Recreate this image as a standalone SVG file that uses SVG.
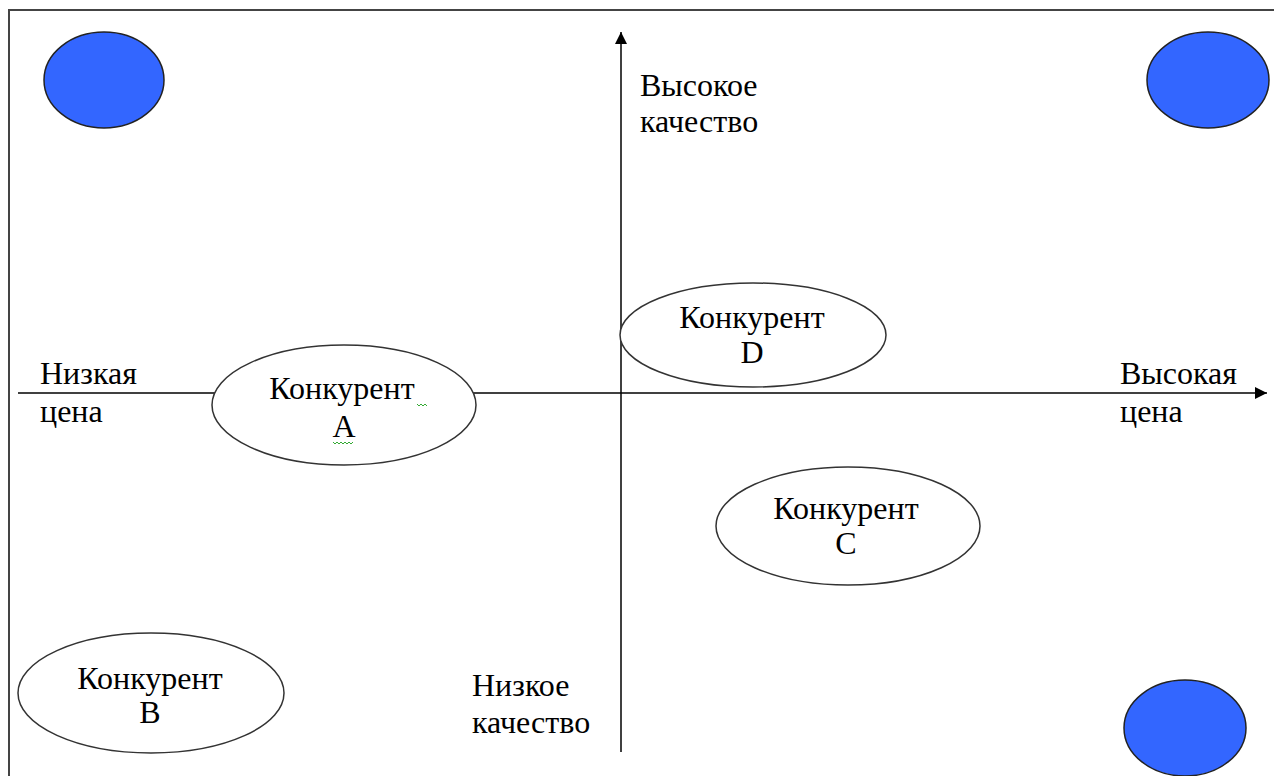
<svg xmlns="http://www.w3.org/2000/svg" width="1274" height="776" viewBox="0 0 1274 776">
<style>
.t{font-family:"Liberation Serif","DejaVu Serif",serif;font-size:32px;fill:#000}
.m{text-anchor:middle}
.e{fill:#fff;stroke:#333;stroke-width:1.5}
.b{fill:#3366ff;stroke:#222;stroke-width:1.5}
.ax{stroke:#000;stroke-width:1.5;fill:none}
.sq{stroke:#3a3;stroke-width:1;fill:none}
</style>
<defs>
<marker id="ah" viewBox="0 0 10 10" refX="10" refY="5" markerWidth="13" markerHeight="12" markerUnits="userSpaceOnUse" orient="auto">
<path d="M0,0 L10,5 L0,10 Z" fill="#000"/>
</marker>
</defs>
<rect width="1274" height="776" fill="#fff"/>
<path d="M9,776 V10 H1274" stroke="#444" stroke-width="2" fill="none"/>
<g id="connectors">
<line class="ax" x1="18" y1="393" x2="1267" y2="393" marker-end="url(#ah)"/>
<line class="ax" x1="621" y1="752" x2="621" y2="32" marker-end="url(#ah)"/>
</g>
<g id="corner-tl"><ellipse class="b" cx="104" cy="80" rx="60" ry="48"/></g>
<g id="corner-tr"><ellipse class="b" cx="1208" cy="80" rx="61" ry="48"/></g>
<g id="corner-br"><ellipse class="b" cx="1185" cy="728" rx="61" ry="48"/></g>
<g id="label-high-quality"><text class="t" x="640" y="96">Высокое</text><text class="t" x="640" y="132">качество</text></g>
<g id="label-low-price"><text class="t" x="40" y="384">Низкая</text><text class="t" x="40" y="422">цена</text></g>
<g id="label-high-price"><text class="t" x="1120" y="384">Высокая</text><text class="t" x="1120" y="422">цена</text></g>
<g id="label-low-quality"><text class="t" x="472" y="696">Низкое</text><text class="t" x="472" y="733">качество</text></g>
<g id="competitor-a"><ellipse class="e" cx="344" cy="405" rx="132" ry="60"/><text class="t m" x="342" y="399">Конкурент</text><text class="t m" x="344" y="437">А</text>
<path class="sq" d="M417,404 l2,2 l2,-2 l2,2 l2,-2 l2,2"/><path class="sq" d="M333,442 l2,2 l2,-2 l2,2 l2,-2 l2,2 l2,-2 l2,2 l2,-2 l2,2 l2,-2"/></g>
<g id="competitor-d"><ellipse class="e" cx="753" cy="335" rx="133" ry="52"/><text class="t m" x="752" y="328">Конкурент</text><text class="t m" x="752" y="363">D</text></g>
<g id="competitor-c"><ellipse class="e" cx="848" cy="526" rx="132" ry="59"/><text class="t m" x="846" y="519">Конкурент</text><text class="t m" x="846" y="554">С</text></g>
<g id="competitor-b"><ellipse class="e" cx="151" cy="693" rx="133" ry="60"/><text class="t m" x="150" y="689">Конкурент</text><text class="t m" x="150" y="723">В</text></g>
</svg>
